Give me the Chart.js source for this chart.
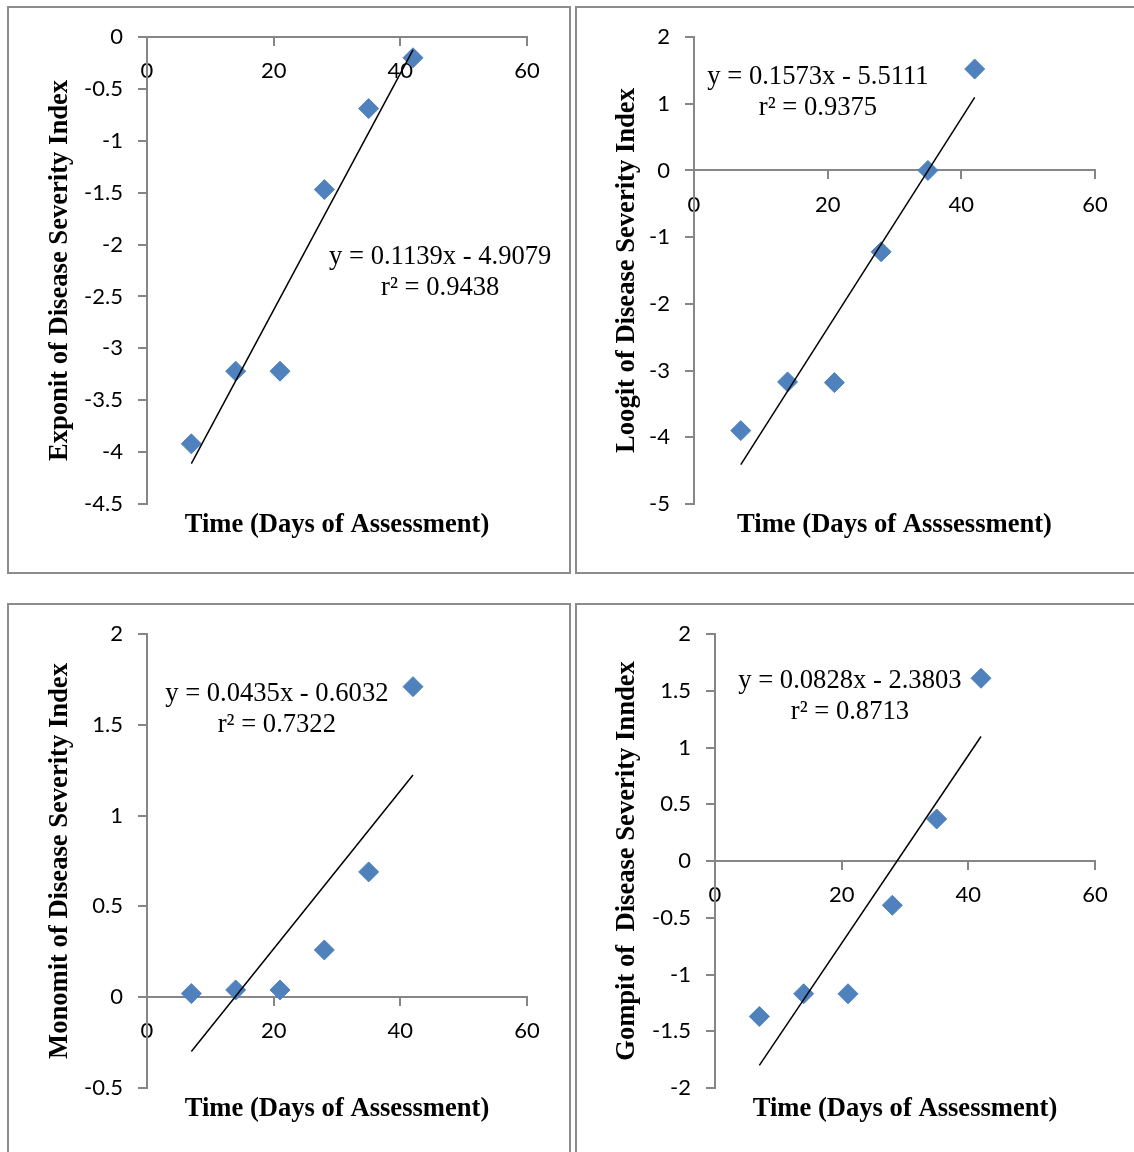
<!DOCTYPE html>
<html>
<head>
<meta charset="utf-8">
<script src="https://cdn.jsdelivr.net/npm/chart.js@4.4.0/dist/chart.umd.min.js"></script>
<style>
  body { margin: 0; background: #fff; width: 1134px; height: 1152px; position: relative; overflow: hidden; }
  .frame { position: absolute; box-sizing: border-box; border: 2px solid #8c8c8c; }
  canvas { position: absolute; }
</style>
</head>
<body>
<div class="frame" style="left:7px;top:6px;width:564px;height:568px"></div>
<div class="frame" style="left:575px;top:6px;width:580px;height:568px"></div>
<div class="frame" style="left:7px;top:603px;width:564px;height:600px"></div>
<div class="frame" style="left:575px;top:603px;width:580px;height:600px"></div>
<canvas id="chart-exponit"></canvas>
<canvas id="chart-loogit"></canvas>
<canvas id="chart-monomit"></canvas>
<canvas id="chart-gompit"></canvas>
<script>
  // days of assessment (x) and transformed severity values (y)
  const days = [7, 14, 21, 28, 35, 42];
  const exponit = [-3.92, -3.22, -3.22, -1.47, -0.69, -0.20];
  const loogit = [-3.90, -3.17, -3.18, -1.22, 0.00, 1.52];
  const monomit = [0.02, 0.04, 0.04, 0.26, 0.69, 1.71];
  const gompit = [-1.37, -1.17, -1.17, -0.39, 0.37, 1.61];

  // linear trendlines as printed on the charts
  const slopes = [0.1139, 0.1573, 0.0435, 0.0828];
  const intercepts = [-4.9079, -5.5111, -0.6032, -2.3803];
  const equations = [
    ['y = 0.1139x - 4.9079', 'r² = 0.9438'],
    ['y = 0.1573x - 5.5111', 'r² = 0.9375'],
    ['y = 0.0435x - 0.6032', 'r² = 0.7322'],
    ['y = 0.0828x - 2.3803', 'r² = 0.8713'],
  ];

  // tick labels
  const xTicks = [0, 20, 40, 60];
  const yTicksExponit = [0, -0.5, -1, -1.5, -2, -2.5, -3, -3.5, -4, -4.5];
  const yTicksLoogit = [2, 1, 0, -1, -2, -3, -4, -5];
  const yTicksMonomit = [2, 1.5, 1, 0.5, 0, -0.5];
  const yTicksGompit = [2, 1.5, 1, 0.5, 0, -0.5, -1, -1.5, -2];

  const yTitles = [
    'Exponit of Disease Severity Index',
    'Loogit of Disease Severity Index',
    'Monomit of Disease Severity Index',
    'Gompit of  Disease Severity Inndex',
  ];
  const xTitles = [
    'Time (Days of Assessment)',
    'Time (Days of Asssessment)',
    'Time (Days of Assessment)',
    'Time (Days of Assessment)',
  ];

  const marker = '#4F81BD';
  const axisGray = '#868686';
  const serif = "'Liberation Serif', 'Times New Roman', serif";
  const sans = "Lato, 'Liberation Sans', sans-serif";
  const TITLE_SIZE = 26.6;
  const TICK_SIZE = 22;

  const equationPlugin = {
    id: 'equation',
    afterDatasetsDraw(chart, args, opts) {
      const { ctx, scales } = chart;
      const px = scales.x.getPixelForValue(opts.at[0]);
      const py = scales.y.getPixelForValue(opts.at[1]);
      ctx.save();
      ctx.font = TITLE_SIZE + 'px ' + serif;
      ctx.fillStyle = '#000';
      ctx.textAlign = 'center';
      ctx.textBaseline = 'alphabetic';
      opts.lines.forEach((line, i) => ctx.fillText(line, px, py + i * 31));
      ctx.restore();
    },
  };

  function makePanel(p) {
    const canvas = document.getElementById(p.id);
    const [bl, bt, bw, bh] = p.box;
    const [pl, pt, pr, pb] = p.plot;
    canvas.width = bw;
    canvas.height = bh;
    canvas.style.left = bl + 'px';
    canvas.style.top = bt + 'px';

    const titleLine = TITLE_SIZE * 1.2;
    const titlePadTop = 21 - titleLine / 2;
    const yTitleCenter = p.yTitleX - bl;

    const points = days.map((d, i) => ({ x: d, y: p.values[i] }));
    const x0 = days[0];
    const x1 = days[days.length - 1];
    const trend = [
      { x: x0, y: p.slope * x0 + p.intercept },
      { x: x1, y: p.slope * x1 + p.intercept },
    ];

    new Chart(canvas, {
      type: 'scatter',
      data: {
        datasets: [
          {
            data: trend,
            showLine: true,
            borderColor: '#000',
            borderWidth: 1.5,
            pointRadius: 0,
            order: 0,
          },
          {
            data: points,
            backgroundColor: marker,
            borderColor: marker,
            borderWidth: 1,
            pointStyle: 'rectRot',
            pointRadius: 10,
            order: 1,
          },
        ],
      },
      options: {
        responsive: false,
        animation: false,
        events: [],
        layout: {
          padding: {
            left: 0,
            top: pt - bt,
            right: bl + bw - pr,
            bottom: bt + bh - pb - titlePadTop - titleLine,
          },
        },
        plugins: {
          legend: { display: false },
          tooltip: { enabled: false },
          title: {
            display: true,
            position: 'bottom',
            fullSize: false,
            text: p.xTitle,
            color: '#000',
            font: { family: serif, size: TITLE_SIZE, weight: 'bold', lineHeight: 1.2 },
            padding: { top: titlePadTop, bottom: 0 },
          },
          equation: { lines: p.eq, at: p.eqAt },
        },
        scales: {
          x: {
            type: 'linear',
            position: { y: 0 },
            min: xTicks[0],
            max: xTicks[xTicks.length - 1],
            afterBuildTicks: (axis) => { axis.ticks = xTicks.map((v) => ({ value: v })); },
            grid: { drawOnChartArea: false, tickLength: 8, color: axisGray, lineWidth: 2 },
            border: { color: axisGray, width: 2 },
            ticks: {
              color: '#000',
              font: { family: sans, size: TICK_SIZE },
              padding: 13,
              maxRotation: 0,
              callback: (v) => String(v),
            },
          },
          y: {
            type: 'linear',
            min: Math.min(...p.yTicks),
            max: Math.max(...p.yTicks),
            afterBuildTicks: (axis) => { axis.ticks = p.yTicks.map((v) => ({ value: v })); },
            afterFit: (axis) => { axis.width = pl - bl; },
            grid: { drawOnChartArea: false, tickLength: 9, color: axisGray, lineWidth: 2 },
            border: { color: axisGray, width: 2 },
            ticks: {
              color: '#000',
              font: { family: sans, size: TICK_SIZE },
              padding: 15,
              callback: (v) => String(v),
            },
            title: {
              display: true,
              text: p.yTitle,
              color: '#000',
              font: { family: serif, size: TITLE_SIZE, weight: 'bold', lineHeight: 1.2 },
              padding: { top: yTitleCenter - titleLine / 2, bottom: 0 },
            },
          },
        },
      },
      plugins: [equationPlugin],
    });
  }

  makePanel({
    id: 'chart-exponit', box: [9, 8, 560, 564], plot: [147, 37, 527, 504], yTitleX: 60,
    values: exponit, slope: slopes[0], intercept: intercepts[0], yTicks: yTicksExponit,
    yTitle: yTitles[0], xTitle: xTitles[0], eq: equations[0], eqAt: [46.3, -2.19],
  });
  makePanel({
    id: 'chart-loogit', box: [577, 8, 557, 564], plot: [694, 37, 1095, 504], yTitleX: 627,
    values: loogit, slope: slopes[1], intercept: intercepts[1], yTicks: yTicksLoogit,
    yTitle: yTitles[1], xTitle: xTitles[1], eq: equations[1], eqAt: [18.55, 1.295],
  });
  makePanel({
    id: 'chart-monomit', box: [9, 605, 560, 547], plot: [147, 634, 527, 1088], yTitleX: 60,
    values: monomit, slope: slopes[2], intercept: intercepts[2], yTicks: yTicksMonomit,
    yTitle: yTitles[2], xTitle: xTitles[2], eq: equations[2], eqAt: [20.5, 1.631],
  });
  makePanel({
    id: 'chart-gompit', box: [577, 605, 557, 547], plot: [715, 634, 1095, 1088], yTitleX: 627,
    values: gompit, slope: slopes[3], intercept: intercepts[3], yTicks: yTicksGompit,
    yTitle: yTitles[3], xTitle: xTitles[3], eq: equations[3], eqAt: [21.3, 1.524],
  });
</script>
</body>
</html>
